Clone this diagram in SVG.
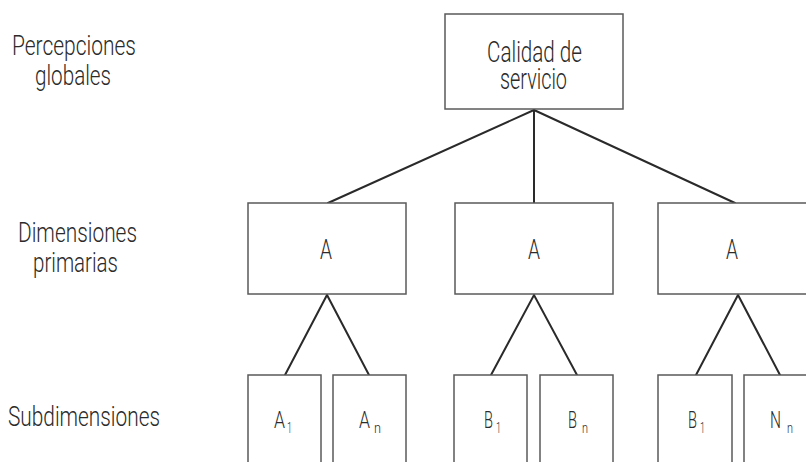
<svg xmlns="http://www.w3.org/2000/svg" width="806" height="462" viewBox="0 0 806 462">
  <style>
    .box { fill: #ffffff; stroke: #5a5a5a; stroke-width: 1.5; }
    .edge { fill: none; stroke: #2a2a2a; stroke-width: 2; stroke-linecap: round; }
    text { font-family: Roboto, "Liberation Sans", sans-serif; font-weight: 300; fill: #2b2b2b; }
    .lvl { font-size: 28px; }
    .node { font-size: 30px; }
    .mid { font-size: 27px; }
    .big { font-size: 24px; }
    .sub { font-size: 15px; }
  </style>
  <rect width="806" height="462" fill="#ffffff"/>

  <!-- level labels -->
  <g id="levels">
    <text class="lvl" x="12" y="55" textLength="124" lengthAdjust="spacingAndGlyphs">Percepciones</text>
    <text class="lvl" x="35" y="85" textLength="76" lengthAdjust="spacingAndGlyphs">globales</text>
    <text class="lvl" x="18" y="242" textLength="119" lengthAdjust="spacingAndGlyphs">Dimensiones</text>
    <text class="lvl" x="33" y="272" textLength="85" lengthAdjust="spacingAndGlyphs">primarias</text>
    <text class="lvl" x="8" y="426" textLength="152" lengthAdjust="spacingAndGlyphs">Subdimensiones</text>
  </g>

  <!-- connectors -->
  <g id="connectors">
    <line class="edge" x1="534" y1="110" x2="328" y2="203"/>
    <line class="edge" x1="534" y1="110" x2="534" y2="203"/>
    <line class="edge" x1="534" y1="110" x2="735" y2="203"/>
    <polyline class="edge" points="285,375 327,295 369,375"/>
    <polyline class="edge" points="491,375 534,295 577,375"/>
    <polyline class="edge" points="696,375 738,295 780,375"/>
  </g>

  <!-- root -->
  <g id="calidad">
    <rect class="box" x="445" y="14" width="178" height="95"/>
    <text class="node" x="487" y="62" textLength="95" lengthAdjust="spacingAndGlyphs">Calidad de</text>
    <text class="node" x="500" y="89" textLength="67" lengthAdjust="spacingAndGlyphs">servicio</text>
  </g>

  <!-- primary dimensions -->
  <g id="dim-1">
    <rect class="box" x="248" y="203" width="158" height="91"/>
    <text class="mid" x="320" y="259" textLength="12" lengthAdjust="spacingAndGlyphs">A</text>
  </g>
  <g id="dim-2">
    <rect class="box" x="455" y="203" width="158" height="91"/>
    <text class="mid" x="528" y="259" textLength="12" lengthAdjust="spacingAndGlyphs">A</text>
  </g>
  <g id="dim-3">
    <rect class="box" x="658" y="203" width="158" height="91"/>
    <text class="mid" x="726" y="259" textLength="12" lengthAdjust="spacingAndGlyphs">A</text>
  </g>

  <!-- subdimensions -->
  <g id="sub-a1">
    <rect class="box" x="248" y="375" width="73" height="100"/>
    <text class="big" x="274" y="428" textLength="11" lengthAdjust="spacingAndGlyphs">A</text>
    <text class="sub" x="287" y="433" textLength="5" lengthAdjust="spacingAndGlyphs">1</text>
  </g>
  <g id="sub-an">
    <rect class="box" x="333" y="375" width="73" height="100"/>
    <text class="big" x="359" y="428" textLength="11" lengthAdjust="spacingAndGlyphs">A</text>
    <text class="sub" x="374" y="433" textLength="7" lengthAdjust="spacingAndGlyphs">n</text>
  </g>
  <g id="sub-b1">
    <rect class="box" x="454" y="375" width="73" height="100"/>
    <text class="big" x="484" y="428" textLength="9" lengthAdjust="spacingAndGlyphs">B</text>
    <text class="sub" x="496" y="433" textLength="5" lengthAdjust="spacingAndGlyphs">1</text>
  </g>
  <g id="sub-bn">
    <rect class="box" x="540" y="375" width="73" height="100"/>
    <text class="big" x="568" y="428" textLength="9" lengthAdjust="spacingAndGlyphs">B</text>
    <text class="sub" x="582" y="433" textLength="6" lengthAdjust="spacingAndGlyphs">n</text>
  </g>
  <g id="sub-b1-2">
    <rect class="box" x="658" y="375" width="74" height="100"/>
    <text class="big" x="688" y="428" textLength="9" lengthAdjust="spacingAndGlyphs">B</text>
    <text class="sub" x="700" y="433" textLength="5" lengthAdjust="spacingAndGlyphs">1</text>
  </g>
  <g id="sub-nn">
    <rect class="box" x="744" y="375" width="74" height="100"/>
    <text class="big" x="770" y="428" textLength="11" lengthAdjust="spacingAndGlyphs">N</text>
    <text class="sub" x="787" y="433" textLength="6" lengthAdjust="spacingAndGlyphs">n</text>
  </g>
</svg>
